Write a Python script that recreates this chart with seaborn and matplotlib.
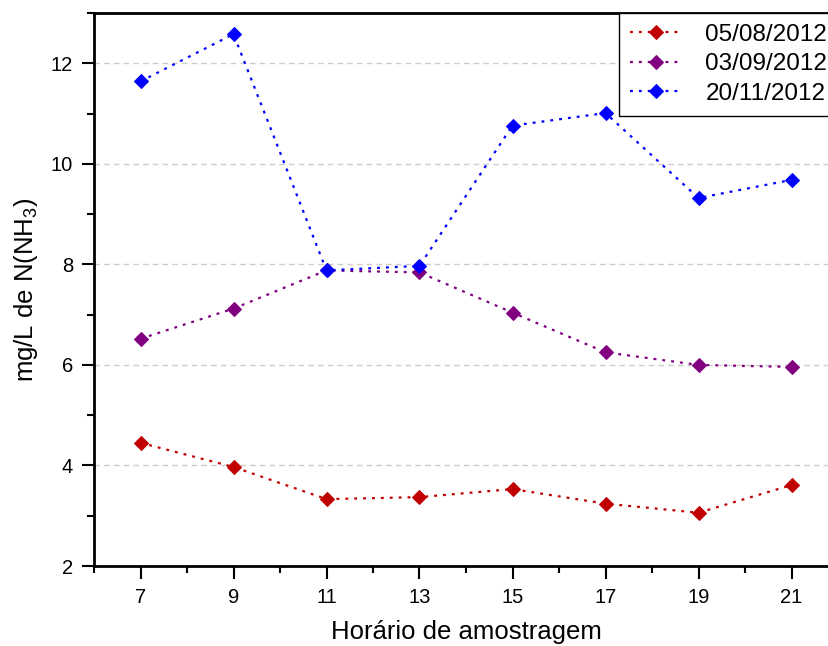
import matplotlib
matplotlib.use("Agg")
import matplotlib.pyplot as plt
import seaborn as sns
import pandas as pd
from matplotlib.ticker import MultipleLocator

hours = [7, 9, 11, 13, 15, 17, 19, 21]
series_names = ["05/08/2012", "03/09/2012", "20/11/2012"]
vals_0508 = [4.45, 3.97, 3.33, 3.37, 3.53, 3.24, 3.06, 3.61]
vals_0309 = [6.52, 7.12, 7.88, 7.84, 7.04, 6.25, 6.00, 5.96]
vals_2011 = [11.64, 12.58, 7.88, 7.97, 10.76, 11.01, 9.32, 9.68]
colors = ["#C00000", "#800080", "#0000FF"]

sns.set_style("white")
plt.rcParams["font.family"] = ["Liberation Sans", "DejaVu Sans"]
plt.rcParams["mathtext.fontset"] = "custom"
plt.rcParams["mathtext.rm"] = "Liberation Sans"
plt.rcParams["mathtext.it"] = "Liberation Sans"
plt.rcParams["text.color"] = "black"
plt.rcParams["axes.labelcolor"] = "black"
plt.rcParams["xtick.color"] = "black"
plt.rcParams["ytick.color"] = "black"

fig = plt.figure(figsize=(8.29, 6.46), dpi=100)
W, H = 829, 646
ax = fig.add_axes([94 / W, 80 / H, 744 / W, 553 / H])

for name, vals, c in zip(series_names, [vals_0508, vals_0309, vals_2011], colors):
    df = pd.DataFrame({"x": hours, "y": vals})
    sns.lineplot(data=df, x="x", y="y", ax=ax, color=c, label=name,
                 marker="D", markersize=7.5, markeredgecolor=c, markerfacecolor=c,
                 linewidth=1.6, linestyle=(0, (1.3, 2.7)))

ax.set_xlim(6, 22)
ax.set_ylim(2, 13)
ax.set_xticks(hours)
ax.xaxis.set_minor_locator(MultipleLocator(2))
ax.set_yticks([2, 4, 6, 8, 10, 12])
ax.yaxis.set_minor_locator(MultipleLocator(1))

ax.tick_params(axis="both", which="major", direction="out", length=9, width=1.5,
               labelsize=14.5, color="black", labelcolor="black")
ax.tick_params(axis="both", which="minor", direction="out", length=5, width=1.5,
               color="black")
ax.tick_params(axis="x", which="both", bottom=True, top=False, pad=7)
ax.tick_params(axis="y", which="both", left=True, right=False, pad=6)

for s in ["left", "bottom", "top", "right"]:
    ax.spines[s].set_visible(True)
    ax.spines[s].set_color("black")
    ax.spines[s].set_linewidth(2)

ax.yaxis.grid(True, linestyle=(0, (4, 3)), color="#cccccc", linewidth=1)
ax.xaxis.grid(False)
ax.set_axisbelow(True)

ax.set_xlabel("Horário de amostragem", fontsize=18.5, labelpad=9, color="black")
ax.set_ylabel("mg/L de N(NH$_3$)", fontsize=18.5, labelpad=8, color="black")

leg = ax.legend(loc="upper left", bbox_to_anchor=((619 - 94) / 744, 1.0),
                borderaxespad=0, fontsize=17.5, frameon=True, fancybox=False,
                edgecolor="black", framealpha=1, handlelength=2.15,
                handletextpad=0.95, labelspacing=0.3, borderpad=0.45)
leg.get_frame().set_linewidth(1.0)
for t in leg.get_texts():
    t.set_color("black")

fig.savefig("out.png", dpi=100)
